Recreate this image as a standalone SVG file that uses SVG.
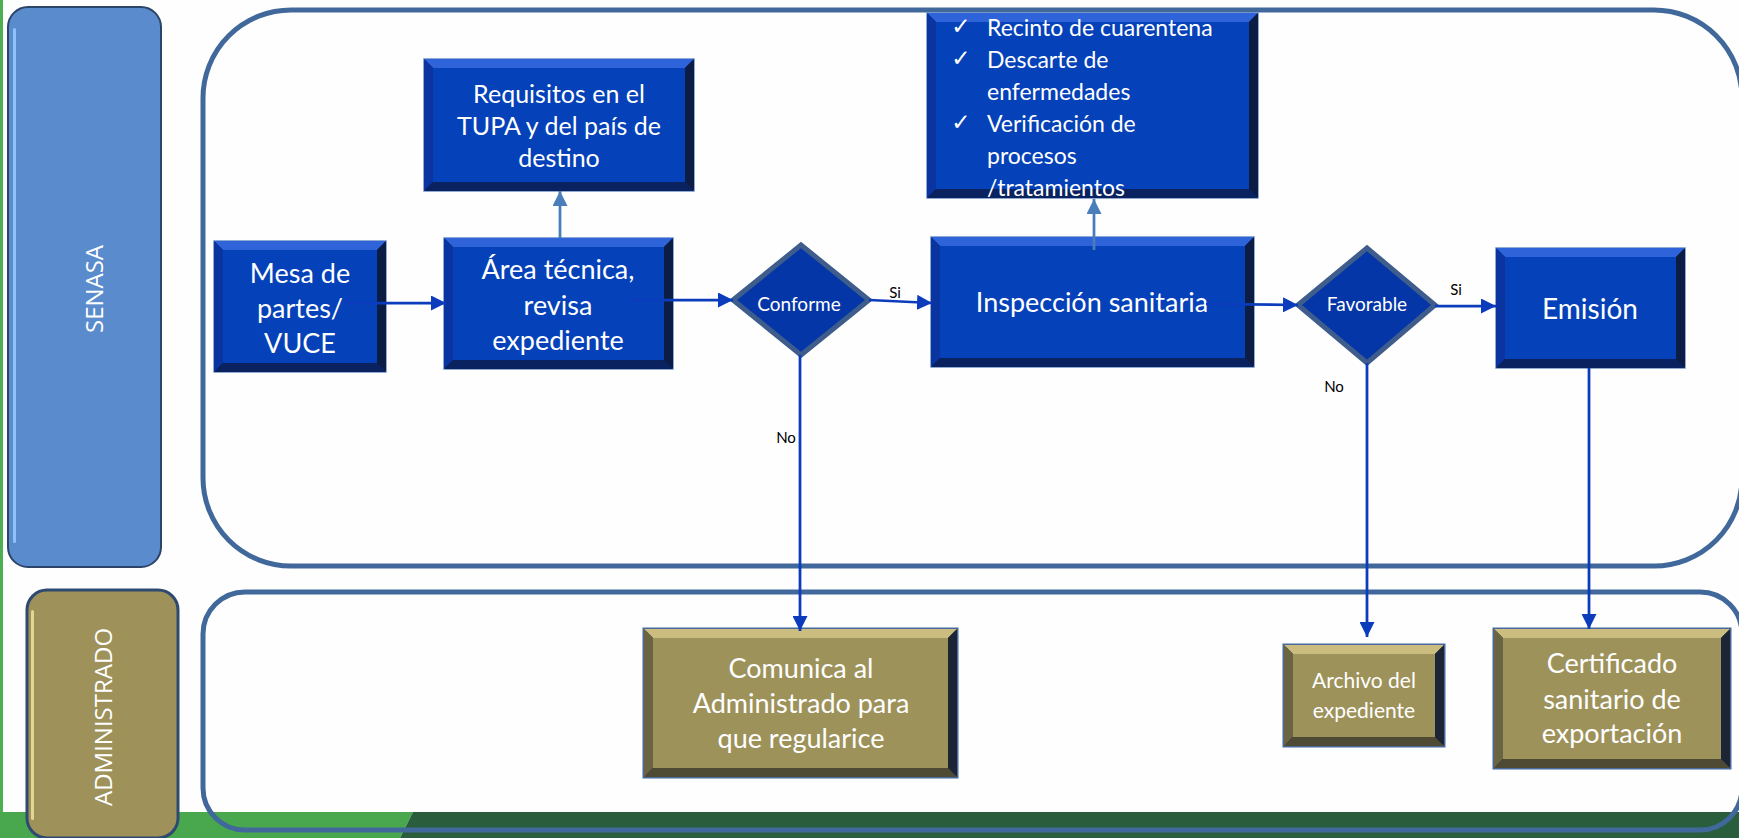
<svg xmlns="http://www.w3.org/2000/svg" width="1739" height="838" viewBox="0 0 1739 838">
<style>
.bo{fill:#0b1f52;stroke:#6d8ec4;stroke-width:1.5}
.btop{fill:#2e63d9}.bleft{fill:#0a34a0}.bright{fill:#0b1c45}.bbot{fill:#0a2260}.bface{fill:#0541b8}
.oo{fill:#1d2436;stroke:#47699c;stroke-width:3}
.otop{fill:#cbbd80}.oleft{fill:#6a6442}.oright{fill:#1d2436}.obot{fill:#4e4a33}.oface{fill:#9e925b}
.dia{fill:#0536a8;stroke:#3e5d8c;stroke-width:5}
.t{font-family:Lato,"Open Sans",sans-serif;fill:#ffffff;text-anchor:middle}
.tl{font-family:Lato,"Open Sans",sans-serif;fill:#ffffff}
.lab{font-family:Lato,"Open Sans",sans-serif;fill:#000000;font-size:15px;text-anchor:middle}
.lane{font-family:"Open Sans",sans-serif;font-weight:400;fill:#ffffff;font-size:24px;text-anchor:middle}
.cont{fill:none;stroke:#41689b;stroke-width:5}
.c{fill:none;stroke:#0a3cbc;stroke-width:2.75}
.cu{fill:none;stroke:#4a7ebb;stroke-width:2.75}
</style>
<defs>
<marker id="ah" markerUnits="userSpaceOnUse" markerWidth="15" markerHeight="15" refX="15" refY="7.5" orient="auto"><path d="M0,0 L15,7.5 L0,15 z" fill="#0a3cbc"/></marker>
<marker id="ahu" markerUnits="userSpaceOnUse" markerWidth="15" markerHeight="15" refX="15" refY="7.5" orient="auto"><path d="M0,0 L15,7.5 L0,15 z" fill="#4a7ebb"/></marker>
</defs>
<rect x="0" y="0" width="1739" height="838" fill="#fefefe"/>
<rect x="0" y="0" width="3" height="838" fill="#4caf50"/>
<polygon points="0,812 413,812 400,838 0,838" fill="#49a84e"/>
<polygon points="413,812 1739,812 1739,838 400,838" fill="#2a5d3b"/>

<g id="lane-senasa">
<rect x="203" y="10" width="1539" height="556" rx="88" class="cont"/>
<rect x="8" y="7" width="153" height="560" rx="20" fill="#5a8bcc" stroke="#2c4468" stroke-width="2"/>
<rect x="13" y="28" width="3" height="515" rx="1.5" fill="#8dc2fb"/>
<text class="lane" transform="translate(94,289) rotate(-90)" dy="9">SENASA</text>
</g>
<g id="lane-administrado">
<rect x="203" y="592" width="1539" height="238" rx="42" class="cont"/>
<rect x="27" y="590" width="151" height="248" rx="20" fill="#9e915a" stroke="#2f4a70" stroke-width="3"/>
<rect x="31" y="610" width="3" height="210" rx="1.5" fill="#e4d592"/>
<text class="lane" transform="translate(103,717) rotate(-90)" dy="9">ADMINISTRADO</text>
</g>

<g id="node-requisitos">
<rect class="bo" x="424" y="59" width="270" height="132"/>
<polygon class="btop" points="424,59 694,59 685,68 433,68"/>
<polygon class="bleft" points="424,59 433,68 433,182 424,191"/>
<polygon class="bright" points="694,59 694,191 685,182 685,68"/>
<polygon class="bbot" points="424,191 694,191 685,182 433,182"/>
<rect class="bface" x="433" y="68" width="252" height="114"/>
<text class="t" font-size="25"><tspan x="559" y="103">Requisitos en el</tspan><tspan x="559" y="135">TUPA y del país de</tspan><tspan x="559" y="167">destino</tspan></text>
</g>

<g id="node-mesa">
<rect class="bo" x="214" y="241" width="172" height="131"/>
<polygon class="btop" points="214,241 386,241 377,250 223,250"/>
<polygon class="bleft" points="214,241 223,250 223,363 214,372"/>
<polygon class="bright" points="386,241 386,372 377,363 377,250"/>
<polygon class="bbot" points="214,372 386,372 377,363 223,363"/>
<rect class="bface" x="223" y="250" width="154" height="113"/>
<text class="t" font-size="27"><tspan x="300" y="283">Mesa de</tspan><tspan x="300" y="318">partes/</tspan><tspan x="300" y="353">VUCE</tspan></text>
</g>

<g id="node-area">
<rect class="bo" x="444" y="238" width="229" height="131"/>
<polygon class="btop" points="444,238 673,238 664,247 453,247"/>
<polygon class="bleft" points="444,238 453,247 453,360 444,369"/>
<polygon class="bright" points="673,238 673,369 664,360 664,247"/>
<polygon class="bbot" points="444,369 673,369 664,360 453,360"/>
<rect class="bface" x="453" y="247" width="211" height="113"/>
<text class="t" font-size="27"><tspan x="558" y="279">Área técnica,</tspan><tspan x="558" y="315">revisa</tspan><tspan x="558" y="350">expediente</tspan></text>
</g>

<g id="node-conforme">
<polygon class="dia" points="733,300 801,245 869,300 801,355"/>
<text class="t" font-size="19" x="799" y="311">Conforme</text>
</g>

<g id="node-checklist">
<rect class="bo" x="927" y="13" width="331" height="185"/>
<polygon class="btop" points="927,13 1258,13 1249,22 936,22"/>
<polygon class="bleft" points="927,13 936,22 936,189 927,198"/>
<polygon class="bright" points="1258,13 1258,198 1249,189 1249,22"/>
<polygon class="bbot" points="927,198 1258,198 1249,189 936,189"/>
<rect class="bface" x="936" y="22" width="313" height="167"/>
<g font-family="'DejaVu Sans',sans-serif" font-size="23" fill="#ffffff" text-anchor="middle">
<text x="961" y="34">✓</text><text x="961" y="66">✓</text><text x="961" y="130">✓</text>
</g>
<text class="tl" font-size="23"><tspan x="987" y="36">Recinto de cuarentena</tspan><tspan x="987" y="68">Descarte de</tspan><tspan x="987" y="100">enfermedades</tspan><tspan x="987" y="132">Verificación de</tspan><tspan x="987" y="164">procesos</tspan><tspan x="987" y="196">/tratamientos</tspan></text>
</g>

<g id="node-inspeccion">
<rect class="bo" x="931" y="237" width="323" height="130"/>
<polygon class="btop" points="931,237 1254,237 1245,246 940,246"/>
<polygon class="bleft" points="931,237 940,246 940,358 931,367"/>
<polygon class="bright" points="1254,237 1254,367 1245,358 1245,246"/>
<polygon class="bbot" points="931,367 1254,367 1245,358 940,358"/>
<rect class="bface" x="940" y="246" width="305" height="112"/>
<text class="t" font-size="27" x="1092" y="312">Inspección sanitaria</text>
</g>

<g id="node-favorable">
<polygon class="dia" points="1298,305 1367,248 1435,305 1367,363"/>
<text class="t" font-size="19" x="1367" y="311">Favorable</text>
</g>

<g id="node-emision">
<rect class="bo" x="1496" y="248" width="189" height="120"/>
<polygon class="btop" points="1496,248 1685,248 1676,257 1505,257"/>
<polygon class="bleft" points="1496,248 1505,257 1505,359 1496,368"/>
<polygon class="bright" points="1685,248 1685,368 1676,359 1676,257"/>
<polygon class="bbot" points="1496,368 1685,368 1676,359 1505,359"/>
<rect class="bface" x="1505" y="257" width="171" height="102"/>
<text class="t" font-size="28" x="1590" y="319">Emisión</text>
</g>

<g id="node-comunica">
<rect class="oo" x="644" y="629" width="313" height="148"/>
<polygon class="otop" points="644,629 957,629 948,638 653,638"/>
<polygon class="oleft" points="644,629 653,638 653,768 644,777"/>
<polygon class="oright" points="957,629 957,777 948,768 948,638"/>
<polygon class="obot" points="644,777 957,777 948,768 653,768"/>
<rect class="oface" x="653" y="638" width="295" height="130"/>
<text class="t" font-size="27"><tspan x="801" y="678">Comunica al</tspan><tspan x="801" y="713">Administrado para</tspan><tspan x="801" y="748">que regularice</tspan></text>
</g>

<g id="node-archivo">
<rect class="oo" x="1284" y="645" width="160" height="101"/>
<polygon class="otop" points="1284,645 1444,645 1435,654 1293,654"/>
<polygon class="oleft" points="1284,645 1293,654 1293,737 1284,746"/>
<polygon class="oright" points="1444,645 1444,746 1435,737 1435,654"/>
<polygon class="obot" points="1284,746 1444,746 1435,737 1293,737"/>
<rect class="oface" x="1293" y="654" width="142" height="83"/>
<text class="t" font-size="21"><tspan x="1364" y="688">Archivo del</tspan><tspan x="1364" y="718">expediente</tspan></text>
</g>

<g id="node-certificado">
<rect class="oo" x="1494" y="629" width="236" height="139"/>
<polygon class="otop" points="1494,629 1730,629 1721,638 1503,638"/>
<polygon class="oleft" points="1494,629 1503,638 1503,759 1494,768"/>
<polygon class="oright" points="1730,629 1730,768 1721,759 1721,638"/>
<polygon class="obot" points="1494,768 1730,768 1721,759 1503,759"/>
<rect class="oface" x="1503" y="638" width="218" height="121"/>
<text class="t" font-size="27"><tspan x="1612" y="673">Certificado</tspan><tspan x="1612" y="709">sanitario de</tspan><tspan x="1612" y="743">exportación</tspan></text>
</g>

<g id="connectors">
<path class="c" d="M344,303 L446,303" marker-end="url(#ah)"/>
<path class="c" d="M629,300 L733,300" marker-end="url(#ah)"/>
<path class="c" d="M869,300 L932,303" marker-end="url(#ah)"/>
<path class="c" d="M800,355 L800,631" marker-end="url(#ah)"/>
<path class="c" d="M1206,304 L1298,305" marker-end="url(#ah)"/>
<path class="c" d="M1435,306 L1496,306" marker-end="url(#ah)"/>
<path class="c" d="M1367,363 L1367,637" marker-end="url(#ah)"/>
<path class="c" d="M1589,368 L1589,629" marker-end="url(#ah)"/>
<path class="cu" d="M560,238 L560,191" marker-end="url(#ahu)"/>
<path class="cu" d="M1094,250 L1094,199" marker-end="url(#ahu)"/>
<text class="lab" x="895" y="298">Si</text>
<text class="lab" x="786" y="443">No</text>
<text class="lab" x="1456" y="295">Si</text>
<text class="lab" x="1334" y="392">No</text>
</g>
</svg>
